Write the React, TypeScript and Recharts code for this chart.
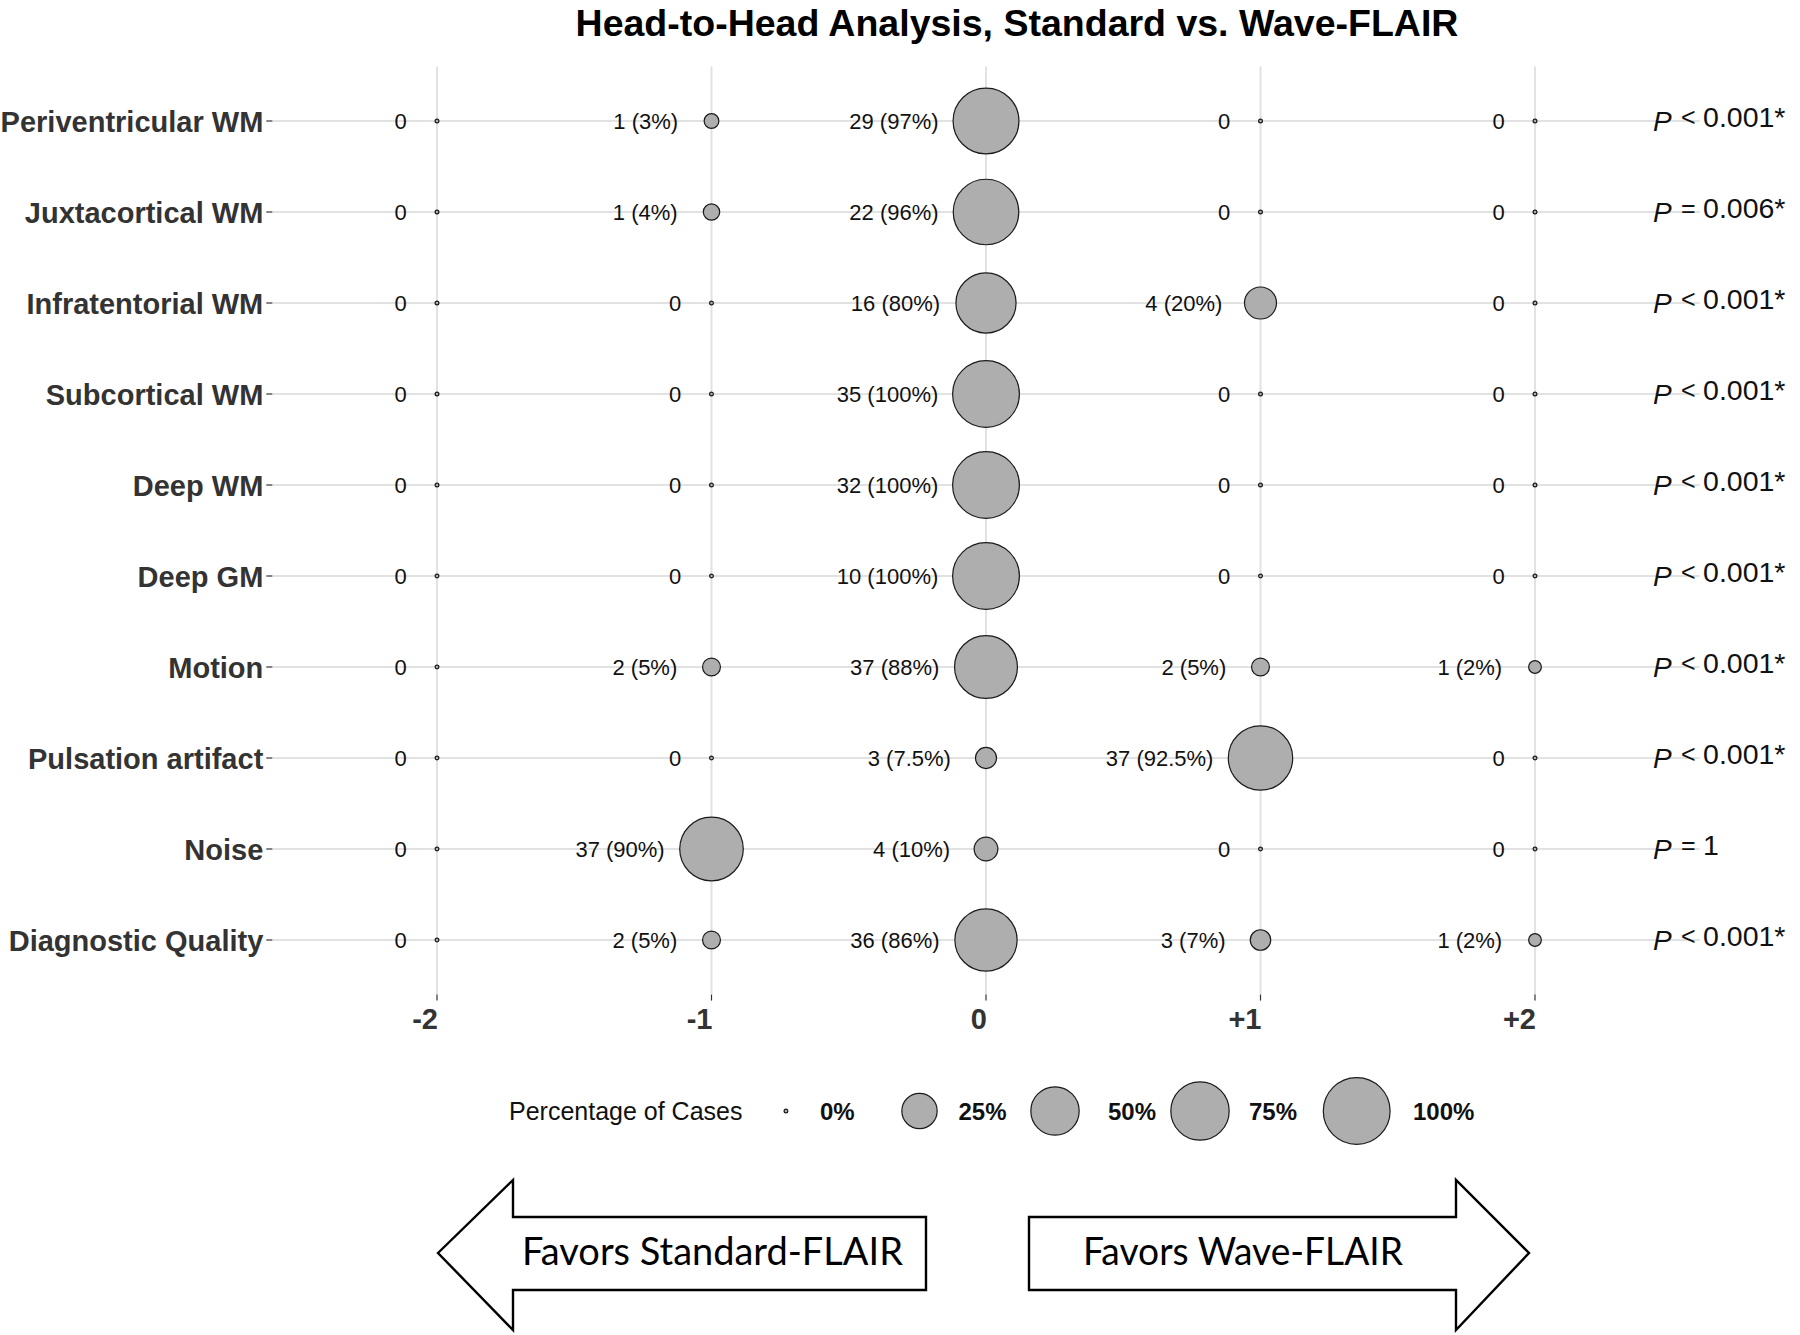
import React from 'react';
import { ScatterChart, Scatter, XAxis, YAxis, CartesianGrid } from 'recharts';

// ---------------- DATA ----------------
const categories = [
  'Periventricular WM',
  'Juxtacortical WM',
  'Infratentorial WM',
  'Subcortical WM',
  'Deep WM',
  'Deep GM',
  'Motion',
  'Pulsation artifact',
  'Noise',
  'Diagnostic Quality',
];

const scores = [-2, -1, 0, 1, 2];
const scoreTickLabels = ['-2', '-1', '0', '+1', '+2'];

// counts per score column (one value per category, top to bottom)
const countsMinus2 = [0, 0, 0, 0, 0, 0, 0, 0, 0, 0];
const countsMinus1 = [1, 1, 0, 0, 0, 0, 2, 0, 37, 2];
const countsZero = [29, 22, 16, 35, 32, 10, 37, 3, 4, 36];
const countsPlus1 = [0, 0, 4, 0, 0, 0, 2, 37, 0, 3];
const countsPlus2 = [0, 0, 0, 0, 0, 0, 1, 0, 0, 1];

// percentages per score column
const pctMinus2 = [0, 0, 0, 0, 0, 0, 0, 0, 0, 0];
const pctMinus1 = [3, 4, 0, 0, 0, 0, 5, 0, 90, 5];
const pctZero = [97, 96, 80, 100, 100, 100, 88, 7.5, 10, 86];
const pctPlus1 = [0, 0, 20, 0, 0, 0, 5, 92.5, 0, 7];
const pctPlus2 = [0, 0, 0, 0, 0, 0, 2, 0, 0, 2];

const pOperators = ['<', '=', '<', '<', '<', '<', '<', '<', '=', '<'];
const pValues = ['0.001*', '0.006*', '0.001*', '0.001*', '0.001*', '0.001*', '0.001*', '0.001*', '1', '0.001*'];

const legendPercents = [0, 25, 50, 75, 100];

// ---------------- BUILD ----------------
const countColumns = [countsMinus2, countsMinus1, countsZero, countsPlus1, countsPlus2];
const pctColumns = [pctMinus2, pctMinus1, pctZero, pctPlus1, pctPlus2];

const bubbleData: any[] = [];
scores.forEach((s, j) => {
  categories.forEach((c, i) => {
    bubbleData.push({ x: s, y: i, n: countColumns[j][i], pct: pctColumns[j][i] });
  });
});

const P_X = 2.43;
const pData = categories.map((c, i) => ({ x: P_X, y: i, op: pOperators[i], val: pValues[i] }));

const FONT = "'Liberation Sans', Arial, Helvetica, sans-serif";
const W = 1800;
const H = 1335;

const radiusFor = (pct: number) => 2.5 + 31.5 * Math.sqrt(pct / 100);

const Bubble = (props: any) => {
  const { cx, cy, payload } = props;
  if (cx == null || cy == null) return null;
  const r = radiusFor(payload.pct);
  const label = payload.n === 0 ? '0' : `${payload.n} (${payload.pct}%)`;
  return (
    <g>
      <circle cx={cx} cy={cy} r={r - 0.6} fill="#AEAEAE" stroke="#1a1a1a" strokeWidth={1.2} />
      <text
        x={cx - (29 + 0.55 * r)}
        y={cy + 8}
        textAnchor="end"
        fontSize={22}
        fontFamily={FONT}
        fill="#111"
      >
        {label}
      </text>
    </g>
  );
};

const PText = (props: any) => {
  const { cx, cy, payload } = props;
  if (cx == null || cy == null) return null;
  return (
    <g fontFamily={FONT} fill="#111">
      <text x={cx} y={cy + 10} fontSize={28} fontStyle="italic">P</text>
      <text x={cx + 28} y={cy + 5} fontSize={25}>{payload.op}</text>
      <text x={cx + 50} y={cy + 6} fontSize={28.5}>{payload.val}</text>
    </g>
  );
};

const YTick = (props: any) => {
  const { x, y, payload } = props;
  return (
    <text
      x={x - 3}
      y={y + 11}
      textAnchor="end"
      fontSize={29}
      fontWeight="bold"
      fontFamily={FONT}
      fill="#333"
    >
      {categories[payload.value]}
    </text>
  );
};

const XTick = (props: any) => {
  const { x, y, payload } = props;
  const idx = scores.indexOf(payload.value);
  return (
    <text
      x={x + 1}
      y={y + 28}
      textAnchor="end"
      fontSize={29}
      fontWeight="bold"
      fontFamily={FONT}
      fill="#333"
    >
      {scoreTickLabels[idx]}
    </text>
  );
};

const scaleOf = (axis: any, v: number) => {
  const s = axis && axis.scale;
  if (!s) return 0;
  if (typeof s === 'function') return s(v);
  if (typeof s.map === 'function') return s.map(v);
  return 0;
};

const yTicks = categories.map((c, i) => i);

// legend layout
const legendY = 1111;
const legendKeyCenters = [786, 919.5, 1055, 1200, 1356.7];
const legendLabelStarts = [820, 958.5, 1108, 1249, 1413];

const Overlay = () => (
  <svg
    width={W}
    height={H}
    style={{ position: 'absolute', left: 0, top: 0, pointerEvents: 'none' }}
  >
    <text
      x={1017}
      y={36}
      textAnchor="middle"
      fontSize={37.5}
      fontWeight="bold"
      fontFamily={FONT}
      fill="#000"
    >
      Head-to-Head Analysis, Standard vs. Wave-FLAIR
    </text>

    {/* size legend */}
    <text x={509} y={legendY + 8.5} fontSize={25} fontFamily={FONT} fill="#111">
      Percentage of Cases
    </text>
    {legendPercents.map((p, k) => {
      const r = radiusFor(p);
      return (
        <g key={p}>
          <circle
            cx={legendKeyCenters[k]}
            cy={legendY}
            r={r - 0.6}
            fill="#AEAEAE"
            stroke="#1a1a1a"
            strokeWidth={1.2}
          />
          <text
            x={legendLabelStarts[k]}
            y={legendY + 8.5}
            fontSize={24}
            fontWeight="bold"
            fontFamily={FONT}
            fill="#111"
          >
            {`${p}%`}
          </text>
        </g>
      );
    })}

    {/* arrows */}
    <polygon
      points="438,1253 513,1180 513,1217 926,1217 926,1290 513,1290 513,1330"
      fill="#fff"
      stroke="#000"
      strokeWidth={2.4}
      strokeLinejoin="miter"
    />
    <text
      x={522}
      y={1265}
      fontSize={39}
      fontFamily="Lato, 'Open Sans', sans-serif"
      fill="#000"
      textLength={381}
      lengthAdjust="spacingAndGlyphs"
    >
      Favors Standard-FLAIR
    </text>
    <polygon
      points="1029,1217 1456,1217 1456,1180 1529,1253 1456,1330 1456,1290 1029,1290"
      fill="#fff"
      stroke="#000"
      strokeWidth={2.4}
      strokeLinejoin="miter"
    />
    <text
      x={1083}
      y={1265}
      fontSize={39}
      fontFamily="Lato, 'Open Sans', sans-serif"
      fill="#000"
      textLength={320}
      lengthAdjust="spacingAndGlyphs"
    >
      Favors Wave-FLAIR
    </text>
  </svg>
);

export default function App() {
  return (
    <div
      style={{
        position: 'absolute',
        left: 0,
        top: 0,
        width: W,
        height: H,
        background: '#fff',
        fontFamily: FONT,
      }}
    >
      <ScatterChart
        width={W}
        height={H}
        margin={{ top: 66.4, right: 100.3, left: 0, bottom: 300.4 }}
      >
        <CartesianGrid
          stroke="#E2E2E2"
          strokeWidth={2}
          horizontalCoordinatesGenerator={(p: any) => yTicks.map((t) => scaleOf(p.yAxis, t))}
          verticalCoordinatesGenerator={(p: any) => scores.map((t) => scaleOf(p.xAxis, t))}
        />
        <XAxis
          type="number"
          dataKey="x"
          domain={[-2.6, 2.6]}
          ticks={scores}
          interval={0}
          axisLine={false}
          tickLine={{ stroke: '#333', strokeWidth: 1.2 }}
          tickSize={6}
          tickMargin={0}
          height={40}
          tick={<XTick />}
        />
        <YAxis
          type="number"
          dataKey="y"
          domain={[-0.6, 9.6]}
          reversed
          ticks={yTicks}
          interval={0}
          axisLine={false}
          tickLine={{ stroke: '#333', strokeWidth: 1.2 }}
          tickSize={6}
          tickMargin={0}
          width={272.3}
          tick={<YTick />}
        />
        <Scatter data={bubbleData} shape={<Bubble />} isAnimationActive={false} />
        <Scatter data={pData} shape={<PText />} isAnimationActive={false} />
      </ScatterChart>
      <Overlay />
    </div>
  );
}
